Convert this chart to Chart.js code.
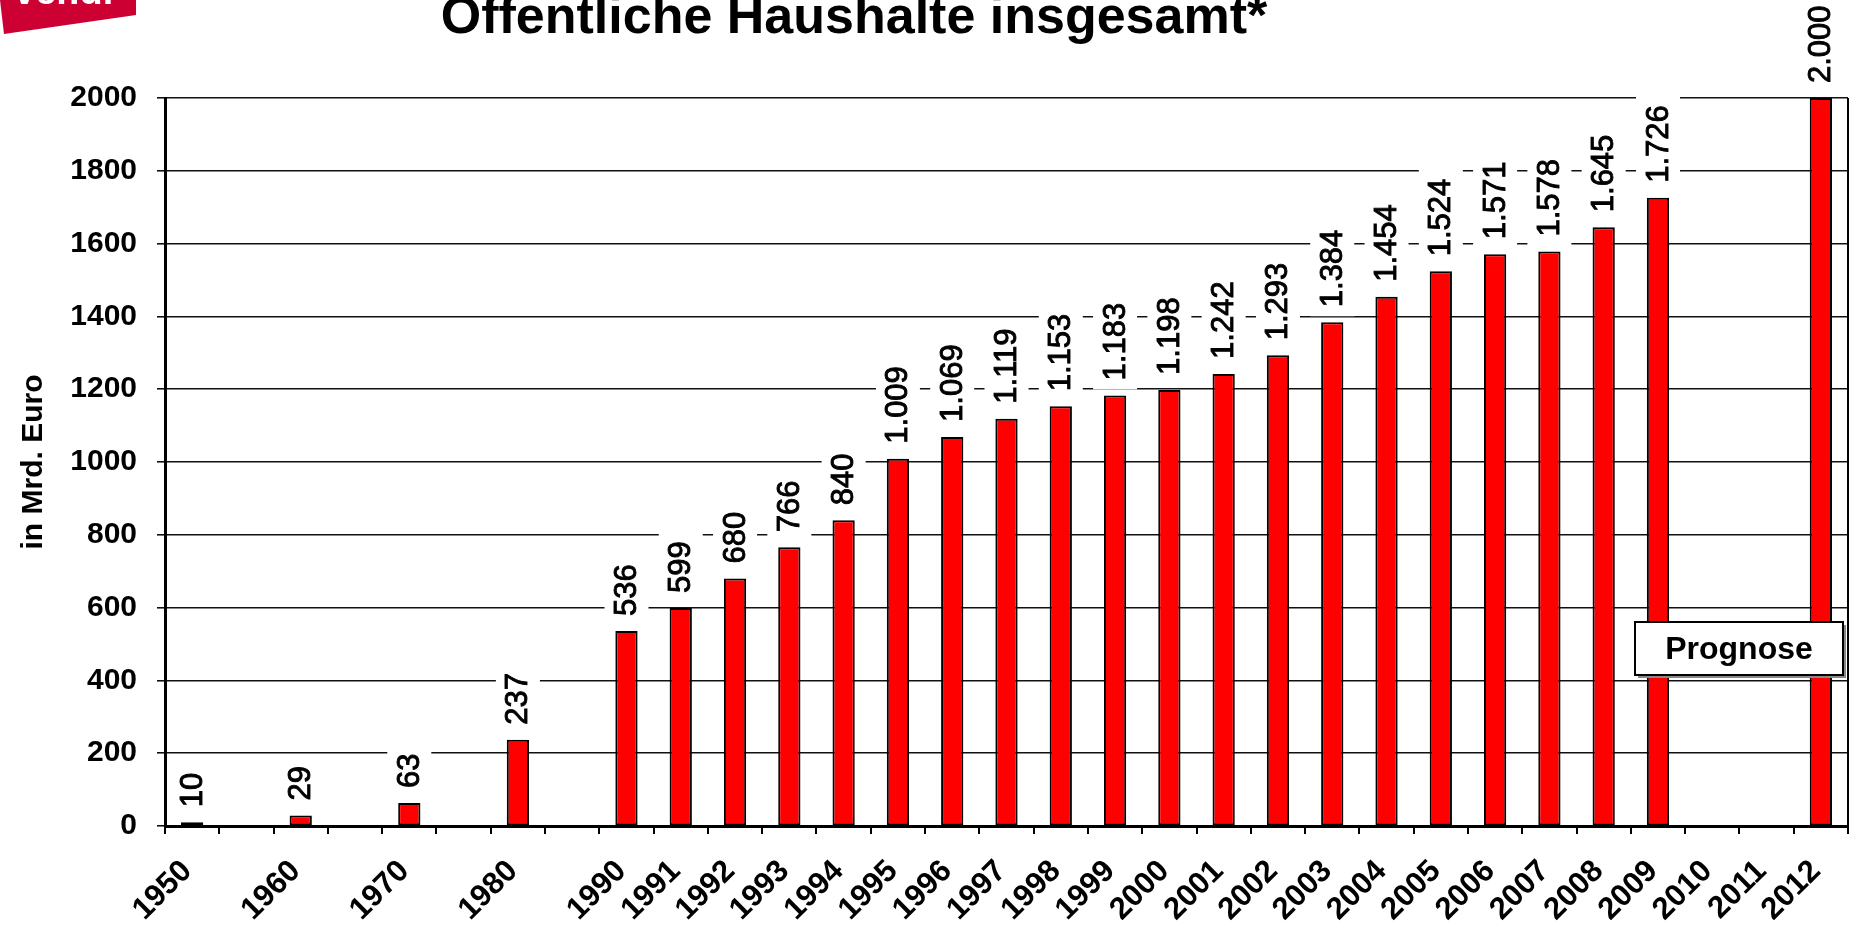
<!DOCTYPE html>
<html>
<head>
<meta charset="utf-8">
<title>Öffentliche Haushalte insgesamt</title>
<script src="https://cdn.jsdelivr.net/npm/chart.js@4.4.1/dist/chart.umd.min.js"></script>
<style>
  html, body { margin: 0; padding: 0; background: #fff; }
  #wrap { width: 1850px; height: 925px; position: relative; }
</style>
</head>
<body>
<div id="wrap"><canvas id="mycanvas"></canvas></div>
<script>
// categories (empty strings are the gaps between decades)
var years = ['1950', '', '1960', '', '1970', '', '1980', '', '1990', '1991', '1992', '1993',
             '1994', '1995', '1996', '1997', '1998', '1999', '2000', '2001', '2002', '2003',
             '2004', '2005', '2006', '2007', '2008', '2009', '2010', '2011', '2012'];
// Schulden in Mrd. Euro
var debt = [10, null, 29, null, 63, null, 237, null, 536, 599, 680, 766,
            840, 1009, 1069, 1119, 1153, 1183, 1198, 1242, 1293, 1384,
            1454, 1524, 1571, 1578, 1645, 1726, null, null, 2000];
var yTicks = [0, 200, 400, 600, 800, 1000, 1200, 1400, 1600, 1800, 2000];

var FONT = "'Liberation Sans', Arial, sans-serif";

function fmt(v) {
    // german thousands separator
    var s = String(v);
    if (s.length > 3) s = s.slice(0, s.length - 3) + '.' + s.slice(s.length - 3);
    return s;
}

var decor = {
    id: 'decor',
    afterDatasetsDraw: function(chart) {
        var ctx = chart.ctx;
        var area = chart.chartArea;
        var meta = chart.getDatasetMeta(0);

        // right border of the plot
        ctx.save();
        ctx.strokeStyle = '#000';
        ctx.lineWidth = 2;
        ctx.beginPath();
        ctx.moveTo(area.right, area.top);
        ctx.lineTo(area.right, area.bottom);
        ctx.stroke();
        ctx.restore();

        // value labels, rotated, on white boxes
        ctx.save();
        ctx.font = '31px ' + FONT;
        meta.data.forEach(function(bar, i) {
            var v = debt[i];
            if (v === null) return;
            var txt = fmt(v);
            var w = ctx.measureText(txt).width;
            var bottom = bar.y - 15;
            ctx.fillStyle = '#fff';
            ctx.fillRect(bar.x - 22, bottom - w - 10, 44, w + 19);
            ctx.save();
            ctx.translate(bar.x + 1, bottom);
            ctx.rotate(-Math.PI / 2);
            ctx.fillStyle = '#000';
            ctx.strokeStyle = '#000';
            ctx.lineWidth = 0.9;
            ctx.textAlign = 'left';
            ctx.textBaseline = 'middle';
            ctx.fillText(txt, 0, 0);
            ctx.strokeText(txt, 0, 0);
            ctx.restore();
        });
        ctx.restore();

        // Prognose box
        ctx.save();
        ctx.fillStyle = '#888';
        ctx.fillRect(1638, 625, 208, 53);
        ctx.fillStyle = '#fff';
        ctx.fillRect(1635, 622, 208, 53);
        ctx.strokeStyle = '#000';
        ctx.lineWidth = 2;
        ctx.strokeRect(1635, 622, 208, 53);
        ctx.fillStyle = '#000';
        ctx.font = 'bold 32px ' + FONT;
        ctx.textAlign = 'center';
        ctx.textBaseline = 'middle';
        ctx.fillText('Prognose', 1739, 650);
        ctx.restore();

        // title, cut at the top edge
        ctx.save();
        ctx.fillStyle = '#000';
        ctx.font = 'bold 52px ' + FONT;
        ctx.textAlign = 'center';
        ctx.textBaseline = 'alphabetic';
        ctx.fillText('Öffentliche Haushalte insgesamt*', 854, 33);
        ctx.restore();

        // logo corner
        ctx.save();
        ctx.fillStyle = '#cc0033';
        ctx.beginPath();
        ctx.moveTo(0, 0);
        ctx.lineTo(136, 0);
        ctx.lineTo(136, 15);
        ctx.lineTo(4, 34);
        ctx.closePath();
        ctx.fill();
        ctx.fillStyle = '#fff';
        ctx.font = 'bold 38px ' + FONT;
        ctx.textBaseline = 'alphabetic';
        ctx.fillText('ver.di', 14, 4);
        ctx.restore();
    }
};

var ctx = document.getElementById('mycanvas');
var myChart = new Chart(ctx, {
    type: 'bar',
    data: {
        labels: years,
        datasets: [{
            label: 'Öffentliche Haushalte',
            data: debt,
            backgroundColor: '#ff0000',
            borderColor: '#000',
            borderWidth: 2,
            borderSkipped: false,
            categoryPercentage: 1.0,
            barPercentage: 0.41
        }]
    },
    options: {
        responsive: true,
        maintainAspectRatio: false,
        animation: false,
        layout: { padding: { top: 98, right: 2, left: 0, bottom: 0 } },
        plugins: {
            legend: { display: false },
            tooltip: { enabled: false }
        },
        scales: {
            x: {
                afterFit: function(scale) {
                    scale.height = 99;
                    scale.paddingLeft = 0;
                    scale.paddingRight = 0;
                },
                grid: {
                    display: true,
                    drawOnChartArea: false,
                    drawTicks: true,
                    tickLength: 8,
                    lineWidth: 2,
                    color: '#000',
                    offset: true
                },
                border: { display: true, width: 3, color: '#000' },
                ticks: {
                    autoSkip: false,
                    maxRotation: 45,
                    minRotation: 45,
                    padding: 19,
                    labelOffset: -5,
                    color: '#000',
                    font: { family: FONT, size: 31, weight: 'bold' }
                }
            },
            y: {
                min: 0,
                max: 2000,
                afterFit: function(scale) { scale.width = 165; },
                afterBuildTicks: function(scale) {
                    scale.ticks = yTicks.map(function(v) { return { value: v }; });
                },
                grid: {
                    color: '#111',
                    lineWidth: 1.6,
                    tickLength: 8
                },
                border: { display: true, width: 3, color: '#000' },
                ticks: {
                    padding: 20,
                    color: '#000',
                    font: { family: FONT, size: 30, weight: 'bold' },
                    callback: function(value) { return String(value); }
                },
                title: {
                    display: true,
                    text: 'in Mrd. Euro',
                    color: '#000',
                    padding: { top: 16, bottom: 0 },
                    font: { family: FONT, size: 30, weight: 'bold' }
                }
            }
        }
    },
    plugins: [decor]
});
</script>
</body>
</html>
